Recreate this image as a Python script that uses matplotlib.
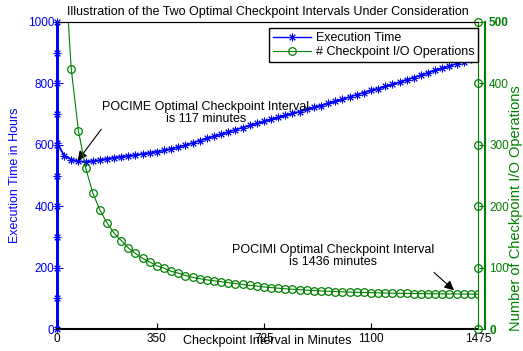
import matplotlib
matplotlib.use("Agg")
import matplotlib.pyplot as plt
from matplotlib.lines import Line2D

plt.rcParams['font.family'] = ['Liberation Sans', 'DejaVu Sans']

# checkpoint interval (minutes)
intervals = list(range(0, 1476, 25))

# execution time in hours
exec_hours = [607, 565, 552, 546, 545, 547, 550, 554, 558, 561,
              564, 567, 570, 574, 578, 582, 587, 593, 599, 606,
              614, 621, 628, 635, 642, 649, 656, 663, 670, 676,
              683, 689, 696, 702, 708, 715, 722, 728, 735, 742,
              749, 756, 763, 770, 777, 783, 790, 797, 804, 812,
              819, 827, 835, 843, 850, 857, 864, 871, 879, 887]

# number of checkpoint I/O operations (starts at 25 min)
io_intervals = intervals[1:]
io_ops = [610, 423, 323, 263, 222, 194, 173, 156, 144, 132,
          123, 115, 109, 103, 99, 94, 91, 87, 84, 82,
          80, 78.5, 77, 75.5, 74, 72.5, 71, 70, 68.5, 67.5,
          66.5, 65.5, 64.8, 64, 63.3, 62.7, 62, 61.5, 61, 60.5,
          60.1, 59.8, 59.5, 59.2, 58.9, 58.6, 58.4, 58.2, 58, 57.8,
          57.6, 57.4, 57.3, 57.2, 57.1, 57, 56.9, 56.8, 56.7]

x_ticks = [0, 350, 725, 1100, 1475]
left_ticks = [0, 200, 400, 600, 800, 1000]
right_ticks = [0, 100, 200, 300, 400, 500]
left_axis_marks = list(range(0, 1001, 100))
right_axis_marks = list(range(0, 501, 100))

BLUE = '#0000ff'
GREEN = '#008000'
FS = 9        # titles, labels, legend, notes
TFS = 8.5     # tick labels
asterisk = (8, 2, 0)
star_kw = dict(marker=asterisk, ms=5.5, mew=0.7)
circ_kw = dict(marker='o', ms=5.5, mfc='none', mew=0.9)

fig = plt.figure(figsize=(5.23, 3.51), dpi=100)
ax = fig.add_axes([57/523, 1 - 329/351, 421/523, 307/351])
ax2 = ax.twinx()

# left axis: execution time
ax.plot(intervals, exec_hours, color=BLUE, lw=1.3, **star_kw)
ax.plot([0]*len(left_axis_marks), left_axis_marks, color=BLUE, lw=2,
        clip_on=False, **star_kw)
ax.set_xlim(0, 1475)
ax.set_ylim(0, 1000)
ax.set_xticks(x_ticks)
ax.set_yticks(left_ticks)
ax.tick_params(axis='x', direction='in', length=4, labelsize=TFS, pad=3)
ax.tick_params(axis='y', direction='in', length=4, labelsize=TFS, colors=BLUE, pad=2)
ax.spines['left'].set_color(BLUE)
ax.spines['left'].set_linewidth(2)
ax.spines['bottom'].set_linewidth(1.5)
ax.spines['right'].set_visible(False)
ax.set_ylabel('Execution Time in Hours', color=BLUE, fontsize=FS)
ax.yaxis.set_label_coords(-0.085, 0.5)
ax.set_xlabel('Checkpoint Interval in Minutes', fontsize=FS)
ax.xaxis.set_label_coords(0.5, -0.02)
ax.set_title('Illustration of the Two Optimal Checkpoint Intervals Under Consideration',
             fontsize=FS, pad=5)

# right axis: checkpoint I/O operations
ax2.plot(io_intervals, io_ops, color=GREEN, lw=0.8, **circ_kw)
ax2.plot([1475]*len(right_axis_marks), right_axis_marks, color=GREEN, lw=0.8,
         clip_on=False, **circ_kw)
ax2.set_ylim(0, 500)
ax2.set_yticks(right_ticks)
ax2.spines['right'].set_position(('outward', 5))
ax2.spines['right'].set_color(GREEN)
ax2.spines['right'].set_linewidth(1.5)
ax2.spines['left'].set_visible(False)
ax2.spines['bottom'].set_visible(False)
ax2.tick_params(axis='y', direction='in', length=4, labelsize=TFS, colors=GREEN, pad=3)
for lbl in ax2.get_yticklabels():
    if lbl.get_text() in ('0', '500'):
        lbl.set_fontweight('bold')
ax2.set_ylabel('Number of Checkpoint I/O Operations', color=GREEN, fontsize=10.5)
ax2.yaxis.set_label_coords(1.074, 0.394)

# annotations
ax2.text(522, 352, 'POCIME Optimal Checkpoint Interval\nis 117 minutes',
         ha='center', va='center', fontsize=FS, linespacing=1.0)
ax.annotate('', xy=(67, 541), xytext=(161, 658),
            arrowprops=dict(arrowstyle='-|>', color='k', lw=0.8, mutation_scale=14))
ax2.text(967, 119, 'POCIMI Optimal Checkpoint Interval\nis 1436 minutes',
         ha='center', va='center', fontsize=FS, linespacing=1.0)
ax2.annotate('', xy=(1398, 60), xytext=(1314, 95),
             arrowprops=dict(arrowstyle='-|>', color='k', lw=0.8, mutation_scale=14))

handles = [Line2D([], [], color=BLUE, lw=1, **star_kw),
           Line2D([], [], color=GREEN, lw=0.8, **circ_kw)]
leg = ax2.legend(handles, ['Execution Time', '# Checkpoint I/O Operations'],
                 loc='upper right', bbox_to_anchor=(1.0, 0.98), borderaxespad=0,
                 fontsize=FS, handlelength=3, labelspacing=0.2, borderpad=0.3,
                 handletextpad=0.4, fancybox=False, framealpha=1)
leg.get_frame().set_edgecolor('k')
leg.get_frame().set_linewidth(1)

fig.savefig('out.png', dpi=100)
